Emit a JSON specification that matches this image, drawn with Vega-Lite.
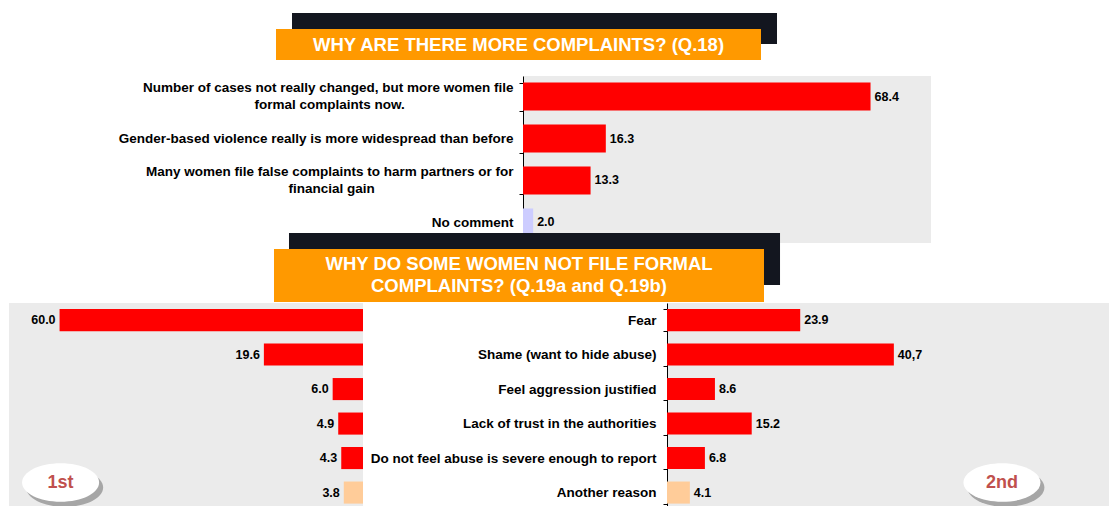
{
  "$schema": "https://vega.github.io/schema/vega-lite/v6.json",
  "background": "white",
  "padding": {"left": 9, "top": 13, "right": 0, "bottom": 0},
  "config": {"font": "Liberation Sans", "view": {"stroke": null}},
  "datasets": {
    "complaints": [
      {"reason": "Number of cases not really changed, but more women file|formal complaints now.", "pct": 68.4, "shown": "68.4", "group": "reason"},
      {"reason": "Gender-based violence really is more widespread than before", "pct": 16.3, "shown": "16.3", "group": "reason"},
      {"reason": "Many women file false complaints to harm partners or for|financial gain", "pct": 13.3, "shown": "13.3", "group": "reason"},
      {"reason": "No comment", "pct": 2.0, "shown": "2.0", "group": "no comment"}
    ],
    "notfiling": [
      {"reason": "Fear", "first": 60.0, "firstShown": "60.0", "second": 23.9, "secondShown": "23.9", "group": "reason"},
      {"reason": "Shame (want to hide abuse)", "first": 19.6, "firstShown": "19.6", "second": 40.7, "secondShown": "40,7", "group": "reason"},
      {"reason": "Feel aggression justified", "first": 6.0, "firstShown": "6.0", "second": 8.6, "secondShown": "8.6", "group": "reason"},
      {"reason": "Lack of trust in the authorities", "first": 4.9, "firstShown": "4.9", "second": 15.2, "secondShown": "15.2", "group": "reason"},
      {"reason": "Do not feel abuse is severe enough to report", "first": 4.3, "firstShown": "4.3", "second": 6.8, "secondShown": "6.8", "group": "reason"},
      {"reason": "Another reason", "first": 3.8, "firstShown": "3.8", "second": 4.1, "secondShown": "4.1", "group": "other"}
    ]
  },
  "spacing": 9,
  "vconcat": [
    {
      "bounds": "flush",
      "spacing": 0,
      "hconcat": [
        {"width": 267, "height": 31, "data": {"values": []}, "mark": "rect", "encoding": {}},
        {
          "width": 485, "height": 31,
          "data": {"values": [{"title": "WHY ARE THERE MORE COMPLAINTS? (Q.18)"}]},
          "layer": [
            {"mark": {"type": "rect", "color": "#13161F"},
             "encoding": {
               "x": {"datum": 0.033, "type": "quantitative", "scale": {"domain": [0, 1], "nice": false, "zero": false}, "axis": null},
               "x2": {"datum": 1.033},
               "y": {"datum": 1.516, "type": "quantitative", "scale": {"domain": [0, 1], "nice": false, "zero": false}, "axis": null},
               "y2": {"datum": 0.516}}},
            {"mark": {"type": "rect", "color": "#FF9900"}, "encoding": {}},
            {"mark": {"type": "text", "color": "white", "fontWeight": "bold", "fontSize": 18.5}, "encoding": {"text": {"field": "title"}}}
          ]
        }
      ]
    },
    {
      "spacing": -11,
      "vconcat": [
        {
          "bounds": "flush",
          "spacing": 0,
          "hconcat": [
            {"width": 514, "height": 167, "data": {"values": []}, "mark": "rect", "encoding": {}},
            {
              "width": 408, "height": 167,
              "view": {"fill": "#EBEBEB", "stroke": null},
              "data": {"name": "complaints"},
              "encoding": {
                "y": {"field": "reason", "type": "nominal", "sort": null,
                  "scale": {"domain": ["Number of cases not really changed, but more women file|formal complaints now.", "Gender-based violence really is more widespread than before", "Many women file false complaints to harm partners or for|financial gain", "No comment"], "paddingInner": 0.333, "paddingOuter": 0.155},
                  "axis": {"title": null, "domainColor": "black", "tickColor": "black", "tickSize": 4, "tickBand": "extent",
                    "labelExpr": "!isValid(datum.value) ? '' : (indexof(datum.value, '|') < 0 ? datum.value : [split(datum.value, '|')[0], pad(split(datum.value, '|')[1], length(split(datum.value, '|')[1]) + round((length(split(datum.value, '|')[0]) - length(split(datum.value, '|')[1])) * 0.88), '\u00a0') + '\u200b'])",
                    "labelBaseline": {"condition": {"test": "isValid(datum.value) && indexof(datum.value, '|') >= 0", "value": "line-bottom"}, "value": "middle"},
                    "labelFontWeight": "bold", "labelFontSize": 13.5, "labelColor": "black", "labelLineHeight": 17, "labelLimit": 1000, "labelPadding": 6}},
                "x": {"field": "pct", "type": "quantitative", "scale": {"domain": [0, 80.3], "nice": false}, "axis": null}
              },
              "layer": [
                {"mark": {"type": "bar"}, "encoding": {"color": {"field": "group", "type": "nominal", "scale": {"domain": ["reason", "no comment", "other"], "range": ["#FF0000", "#CCCCFF", "#FFCC99"]}, "legend": null}}},
                {"mark": {"type": "text", "align": "left", "dx": 4, "fontWeight": "bold", "fontSize": 12.5, "color": "black"}, "encoding": {"text": {"field": "shown"}}}
              ]
            }
          ]
        },
        {
          "spacing": -6,
          "vconcat": [
            {
              "bounds": "flush",
              "spacing": 0,
              "hconcat": [
                {"width": 265, "height": 53, "data": {"values": []}, "mark": "rect", "encoding": {}},
                {
                  "width": 490, "height": 53,
                  "data": {"values": [{"title": "WHY DO SOME WOMEN NOT FILE FORMAL\nCOMPLAINTS? (Q.19a and Q.19b)"}]},
                  "layer": [
                    {"mark": {"type": "rect", "color": "#13161F"},
                     "encoding": {
                       "x": {"datum": 0.0306, "type": "quantitative", "scale": {"domain": [0, 1], "nice": false, "zero": false}, "axis": null},
                       "x2": {"datum": 1.0327},
                       "y": {"datum": 1.302, "type": "quantitative", "scale": {"domain": [0, 1], "nice": false, "zero": false}, "axis": null},
                       "y2": {"datum": 0.321}}},
                    {"mark": {"type": "rect", "color": "#FF9900"}, "encoding": {}},
                    {"mark": {"type": "text", "color": "white", "fontWeight": "bold", "fontSize": 18.5, "lineBreak": "\n", "lineHeight": 22, "baseline": "line-bottom"}, "encoding": {"text": {"field": "title"}}}
                  ]
                }
              ]
            },
            {
              "bounds": "flush",
              "spacing": 304,
              "hconcat": [
                {
                  "width": 354, "height": 204,
                  "view": {"fill": "#EBEBEB", "stroke": null},
                  "layer": [
                    {"data": {"name": "notfiling"}, "mark": {"type": "bar"},
                     "encoding": {
                       "y": {"field": "reason", "type": "nominal", "sort": null,
                         "scale": {"domain": ["Fear", "Shame (want to hide abuse)", "Feel aggression justified", "Lack of trust in the authorities", "Do not feel abuse is severe enough to report", "Another reason"], "paddingInner": 0.36, "paddingOuter": 0.137, "align": 0.64},
                         "axis": null},
                       "x": {"field": "first", "type": "quantitative", "scale": {"domain": [0, 70], "nice": false, "reverse": true}, "axis": null},
                       "color": {"field": "group", "type": "nominal", "scale": {"domain": ["reason", "no comment", "other"], "range": ["#FF0000", "#CCCCFF", "#FFCC99"]}, "legend": null}}},
                    {"data": {"name": "notfiling"}, "mark": {"type": "text", "align": "right", "dx": -4, "fontWeight": "bold", "fontSize": 12.5, "color": "black"},
                     "encoding": {
                       "y": {"field": "reason", "type": "nominal", "sort": null},
                       "x": {"field": "first", "type": "quantitative"},
                       "text": {"field": "firstShown"}}},
                    {"data": {"values": [{"rank": "1st"}]}, "mark": {"type": "point", "shape": "M-1,0C-1,-0.28,-0.55,-0.5,0,-0.5C0.55,-0.5,1,-0.28,1,0C1,0.28,0.55,0.5,0,0.5C-0.55,0.5,-1,0.28,-1,0Z", "filled": true, "color": "#A6A6A6", "opacity": 1, "size": 5929},
                     "encoding": {"x": {"datum": 59.0, "type": "quantitative"}, "y": {"datum": "Another reason", "type": "nominal", "bandPosition": 0.27}}},
                    {"data": {"values": [{"rank": "1st"}]}, "mark": {"type": "point", "shape": "M-1,0C-1,-0.28,-0.55,-0.5,0,-0.5C0.55,-0.5,1,-0.28,1,0C1,0.28,0.55,0.5,0,0.5C-0.55,0.5,-1,0.28,-1,0Z", "filled": true, "color": "white", "opacity": 1, "size": 5929},
                     "encoding": {"x": {"datum": 59.8, "type": "quantitative"}, "y": {"datum": "Another reason", "type": "nominal", "bandPosition": 0.05}}},
                    {"data": {"values": [{"rank": "1st"}]}, "mark": {"type": "text", "fontWeight": "bold", "fontSize": 18, "color": "#C0504D"},
                     "encoding": {"x": {"datum": 59.8, "type": "quantitative"}, "y": {"datum": "Another reason", "type": "nominal", "bandPosition": 0.05}, "text": {"field": "rank"}}}
                  ]
                },
                {
                  "width": 442, "height": 204,
                  "view": {"fill": "#EBEBEB", "stroke": null},
                  "layer": [
                    {"data": {"name": "notfiling"}, "mark": {"type": "bar"},
                     "encoding": {
                       "y": {"field": "reason", "type": "nominal", "sort": null,
                         "scale": {"domain": ["Fear", "Shame (want to hide abuse)", "Feel aggression justified", "Lack of trust in the authorities", "Do not feel abuse is severe enough to report", "Another reason"], "paddingInner": 0.36, "paddingOuter": 0.137, "align": 0.64},
                         "axis": {"title": null, "domainColor": "black", "tickColor": "black", "tickSize": 4, "tickBand": "extent", "labelFontWeight": "bold", "labelFontSize": 13.5, "labelColor": "black", "labelPadding": 7, "labelLimit": 1000}},
                       "x": {"field": "second", "type": "quantitative", "scale": {"domain": [0, 79.3], "nice": false}, "axis": null},
                       "color": {"field": "group", "type": "nominal", "scale": {"domain": ["reason", "no comment", "other"], "range": ["#FF0000", "#CCCCFF", "#FFCC99"]}, "legend": null}}},
                    {"data": {"name": "notfiling"}, "mark": {"type": "text", "align": "left", "dx": 4, "fontWeight": "bold", "fontSize": 12.5, "color": "black"},
                     "encoding": {
                       "y": {"field": "reason", "type": "nominal", "sort": null},
                       "x": {"field": "second", "type": "quantitative"},
                       "text": {"field": "secondShown"}}},
                    {"data": {"values": [{"rank": "2nd"}]}, "mark": {"type": "point", "shape": "M-1,0C-1,-0.28,-0.55,-0.5,0,-0.5C0.55,-0.5,1,-0.28,1,0C1,0.28,0.55,0.5,0,0.5C-0.55,0.5,-1,0.28,-1,0Z", "filled": true, "color": "#A6A6A6", "opacity": 1, "size": 5929},
                     "encoding": {"x": {"datum": 60.8, "type": "quantitative"}, "y": {"datum": "Another reason", "type": "nominal", "bandPosition": 0.27}}},
                    {"data": {"values": [{"rank": "2nd"}]}, "mark": {"type": "point", "shape": "M-1,0C-1,-0.28,-0.55,-0.5,0,-0.5C0.55,-0.5,1,-0.28,1,0C1,0.28,0.55,0.5,0,0.5C-0.55,0.5,-1,0.28,-1,0Z", "filled": true, "color": "white", "opacity": 1, "size": 5929},
                     "encoding": {"x": {"datum": 60.1, "type": "quantitative"}, "y": {"datum": "Another reason", "type": "nominal", "bandPosition": 0.05}}},
                    {"data": {"values": [{"rank": "2nd"}]}, "mark": {"type": "text", "fontWeight": "bold", "fontSize": 18, "color": "#C0504D"},
                     "encoding": {"x": {"datum": 60.1, "type": "quantitative"}, "y": {"datum": "Another reason", "type": "nominal", "bandPosition": 0.05}, "text": {"field": "rank"}}}
                  ]
                }
              ]
            }
          ]
        }
      ]
    }
  ]
}
